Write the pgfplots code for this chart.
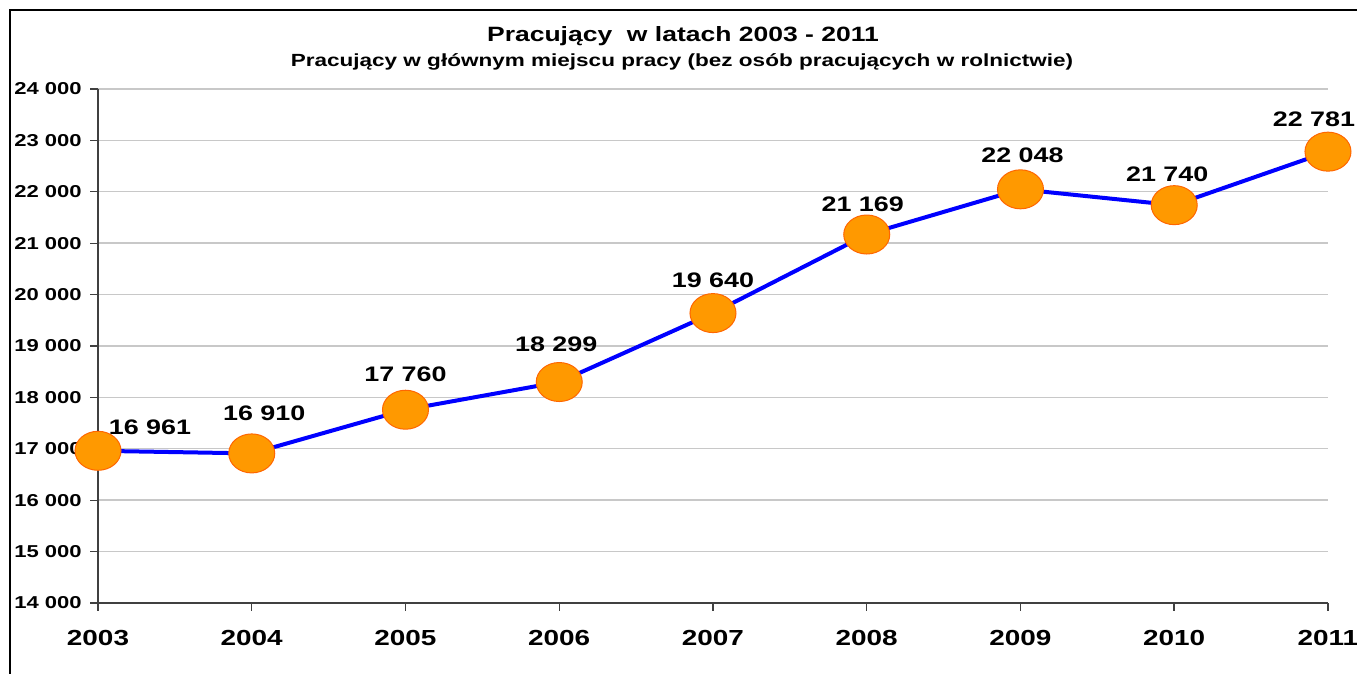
\documentclass[border=0pt]{standalone}
\usepackage{fontspec}
\setmainfont{Liberation Sans}[FakeStretch=1.28]
\usepackage{pgfplots}
\pgfplotsset{compat=1.18}
\usepackage{pgfplotstable}

\definecolor{lineblue}{HTML}{0000FF}
\definecolor{mfill}{HTML}{FF9900}
\definecolor{medge}{HTML}{FF6600}
\definecolor{gridgray}{HTML}{C8C8C8}
\definecolor{axgray}{HTML}{404040}

% tick labels above the markers, axis lines below them
\pgfplotsset{
  layers/labels on top/.define layer set={
    axis background,axis grid,axis ticks,axis lines,main,
    axis tick labels,axis descriptions,axis foreground}{},
}

% dx, dy: label offset from the point, in pt
\pgfplotstableread{
year  val    dx     dy
2003  16961  26     8
2004  16910  6.25   16.25
2005  17760  0      14
2006  18299  -1.5   15.5
2007  19640  0      12.75
2008  21169  -2     11.5
2009  22048  1      13.5
2010  21740  -3.5   11.85
2011  22781  -7     12.65
}\pracujacy

\begin{document}
\begin{tikzpicture}
\begin{axis}[
  set layers=labels on top,
  scale only axis,
  width=615pt, height=257pt,
  xmin=2003, xmax=2011,
  ymin=14000, ymax=24000,
  xtick={2003,...,2011},
  ytick={14000,15000,...,24000},
  scaled y ticks=false,
  axis lines=left,
  axis line style={-, draw=axgray, line width=0.65pt},
  tick style={draw=axgray, line width=0.65pt},
  tick align=outside,
  major tick length=4pt,
  ymajorgrids,
  grid style={gridgray, line width=0.7pt},
  clip=false,
  /pgf/number format/assume math mode=true,
  x tick label style={font=\fontsize{10.9}{12}\selectfont\bfseries,
    /pgf/number format/1000 sep={}, anchor=north, inner sep=0pt, yshift=-9.5pt},
  y tick label style={font=\fontsize{8.6}{10}\selectfont\bfseries,
    /pgf/number format/1000 sep={\ }, anchor=east, inner sep=0pt, xshift=-4pt},
]
\addplot[lineblue, line width=2pt,
  mark=*, mark size=9.75pt,
  mark options={fill=mfill, draw=medge, line width=0.5pt, xscale=1.18},
  visualization depends on={\thisrow{dx} \as \dx},
  visualization depends on={\thisrow{dy} \as \dy},
  point meta=explicit,
  nodes near coords={\pgfmathprintnumber[1000 sep={\ }]{\pgfplotspointmeta}},
  nodes near coords style={anchor=base, inner sep=0pt, text=black,
    xshift=\dx pt, yshift=\dy pt,
    font=\fontsize{10.5}{12}\selectfont\bfseries},
] table[x=year, y=val, meta=val] {\pracujacy};
\end{axis}
\node[anchor=base, font=\fontsize{10.35}{12}\selectfont\bfseries]
  at (292.5pt,280.6pt) {Pracujący\ \ w latach 2003 - 2011};
\node[anchor=base, font=\fontsize{8.8}{10}\selectfont\bfseries]
  at (292pt,268.2pt) {Pracujący w głównym miejscu pracy (bez osób pracujących w rolnictwie)};
\draw[black, line width=1pt] (700pt,296.5pt) -- (-44pt,296.5pt) -- (-44pt,-80pt);
\pgfresetboundingbox
\path[use as bounding box] (-49pt,-35.5pt) rectangle (629.5pt,301.5pt);
\end{tikzpicture}
\end{document}
